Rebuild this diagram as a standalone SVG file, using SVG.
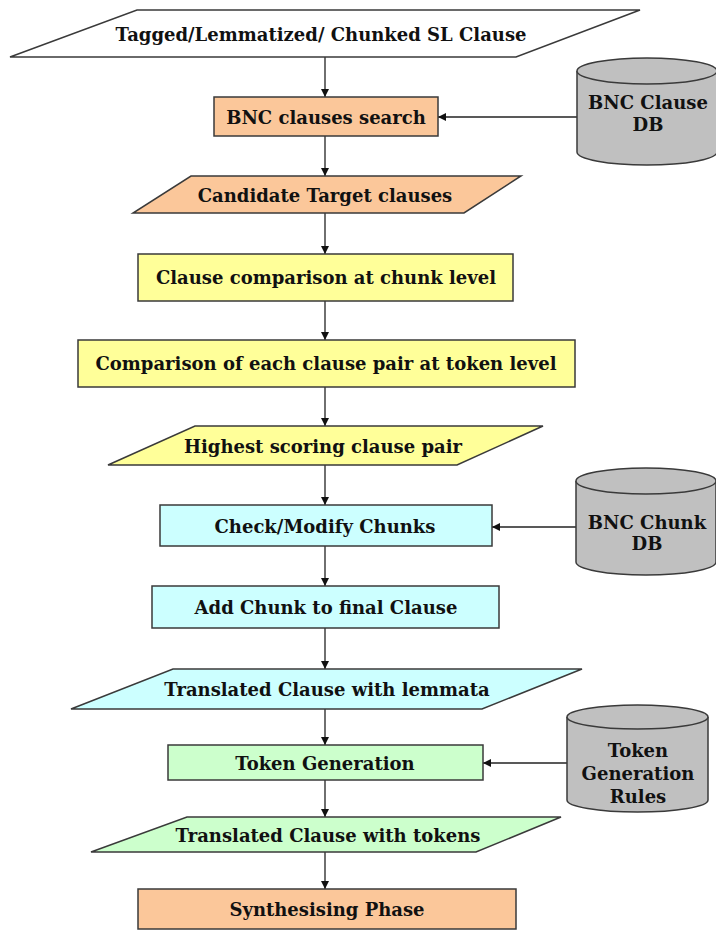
<svg xmlns="http://www.w3.org/2000/svg" width="716" height="930" viewBox="0 0 716 930">
<defs>
<style>
.s{stroke:#3a3a3a;stroke-width:1.5}
.o{fill:#FBC79A}
.y{fill:#FFFF99}
.c{fill:#CCFFFF}
.g{fill:#CCFFCC}
.w{fill:#FFFFFF}
.db{fill:#C0C0C0;stroke:#3a3a3a;stroke-width:1.5}
text{font-family:"DejaVu Serif","Liberation Serif",serif;font-weight:bold;font-size:18px;fill:#111;text-anchor:middle;dominant-baseline:central}
.ln{stroke:#222;stroke-width:1.3;fill:none}
</style>
<marker id="ah" viewBox="0 0 10 10" refX="10" refY="5" markerWidth="8" markerHeight="8" markerUnits="userSpaceOnUse" orient="auto">
<path d="M0,0 L10,5 L0,10 z" fill="#111"/>
</marker>
</defs>
<rect width="716" height="930" fill="#fff"/>

<g id="connectors">
<line class="ln" x1="325" y1="57" x2="325" y2="97" marker-end="url(#ah)"/>
<line class="ln" x1="325" y1="136" x2="325" y2="176" marker-end="url(#ah)"/>
<line class="ln" x1="325" y1="213" x2="325" y2="254" marker-end="url(#ah)"/>
<line class="ln" x1="325" y1="301" x2="325" y2="340" marker-end="url(#ah)"/>
<line class="ln" x1="325" y1="387" x2="325" y2="426" marker-end="url(#ah)"/>
<line class="ln" x1="325" y1="465" x2="325" y2="505" marker-end="url(#ah)"/>
<line class="ln" x1="325" y1="546" x2="325" y2="586" marker-end="url(#ah)"/>
<line class="ln" x1="325" y1="628" x2="325" y2="669" marker-end="url(#ah)"/>
<line class="ln" x1="325" y1="709" x2="325" y2="745" marker-end="url(#ah)"/>
<line class="ln" x1="325" y1="780" x2="325" y2="817" marker-end="url(#ah)"/>
<line class="ln" x1="325" y1="852" x2="325" y2="889" marker-end="url(#ah)"/>
<line class="ln" x1="577" y1="117" x2="438" y2="117" marker-end="url(#ah)"/>
<line class="ln" x1="576" y1="527" x2="492" y2="527" marker-end="url(#ah)"/>
<line class="ln" x1="567" y1="763" x2="483" y2="763" marker-end="url(#ah)"/>
</g>

<g id="n-input">
<polygon class="w s" points="137,10 640,10 516,57 10,57"/>
<text x="321" y="34">Tagged/Lemmatized/ Chunked SL Clause</text>
</g>

<g id="n-bnc-search">
<rect class="o s" x="214" y="97" width="224" height="39"/>
<text x="326" y="117">BNC clauses search</text>
</g>

<g id="n-bnc-clause-db">
<path class="db" d="M577,71 L577,152 A70,13 0 0 0 717,152 L717,71"/>
<ellipse class="db" cx="647" cy="71" rx="70" ry="13"/>
<text x="648" y="102">BNC Clause</text>
<text x="648" y="124">DB</text>
</g>

<g id="n-candidate">
<polygon class="o s" points="191,176 521,176 464,213 133,213"/>
<text x="325" y="195">Candidate Target clauses</text>
</g>

<g id="n-chunk-compare">
<rect class="y s" x="138" y="254" width="375" height="47"/>
<text x="326" y="277">Clause comparison at chunk level</text>
</g>

<g id="n-token-compare">
<rect class="y s" x="78" y="340" width="497" height="47"/>
<text x="326" y="363">Comparison of each clause pair at token level</text>
</g>

<g id="n-highest">
<polygon class="y s" points="195,426 543,426 457,465 108,465"/>
<text x="323" y="446">Highest scoring clause pair</text>
</g>

<g id="n-check">
<rect class="c s" x="160" y="505" width="332" height="41"/>
<text x="325" y="526">Check/Modify Chunks</text>
</g>

<g id="n-bnc-chunk-db">
<path class="db" d="M576,481 L576,562 A70,13 0 0 0 716,562 L716,481"/>
<ellipse class="db" cx="646" cy="481" rx="70" ry="13"/>
<text x="647" y="522">BNC Chunk</text>
<text x="647" y="543">DB</text>
</g>

<g id="n-add">
<rect class="c s" x="152" y="586" width="347" height="42"/>
<text x="326" y="607">Add Chunk to final Clause</text>
</g>

<g id="n-lemmata">
<polygon class="c s" points="173,669 582,669 482,709 71,709"/>
<text x="327" y="689">Translated Clause with lemmata</text>
</g>

<g id="n-token-gen">
<rect class="g s" x="168" y="745" width="315" height="35"/>
<text x="325" y="763">Token Generation</text>
</g>

<g id="n-rules-db">
<path class="db" d="M567,717 L567,800 A70,12 0 0 0 708,800 L708,717"/>
<ellipse class="db" cx="637.5" cy="717" rx="70.5" ry="12"/>
<text x="638" y="750">Token</text>
<text x="638" y="773">Generation</text>
<text x="638" y="796">Rules</text>
</g>

<g id="n-tokens">
<polygon class="g s" points="187,817 561,817 476,852 91,852"/>
<text x="328" y="835">Translated Clause with tokens</text>
</g>

<g id="n-synth">
<rect class="o s" x="138" y="889" width="378" height="40"/>
<text x="327" y="909">Synthesising Phase</text>
</g>
</svg>
